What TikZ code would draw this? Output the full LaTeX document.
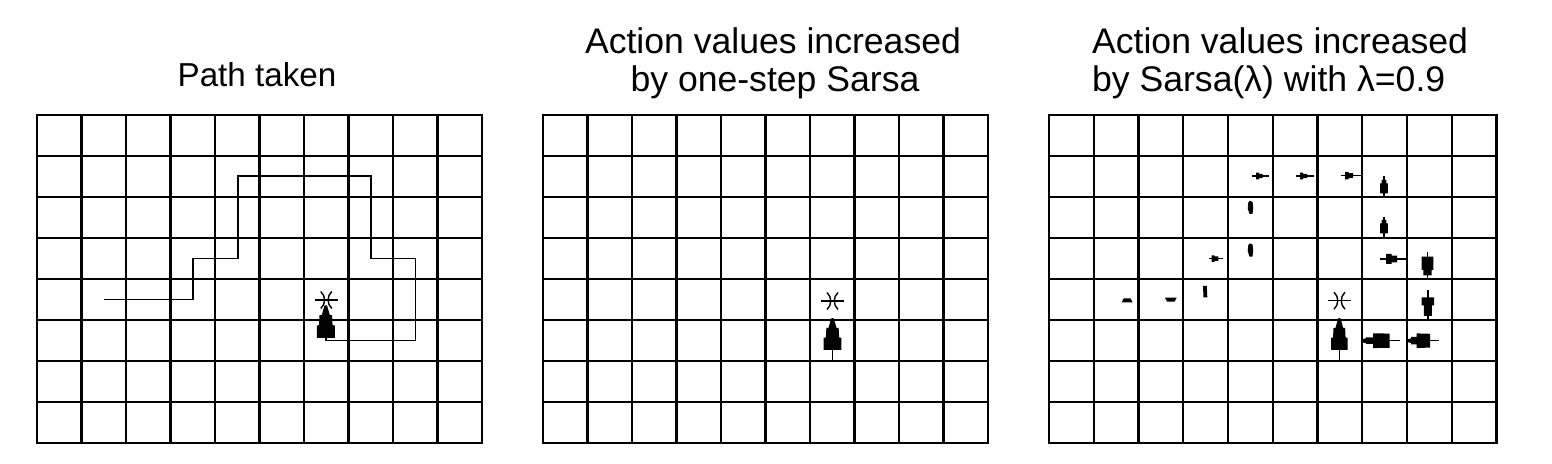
\documentclass[tikz,border=0pt]{standalone}
\usepackage{fontspec}
\setmainfont{Liberation Sans}
\tikzset{
  gridline/.style={line width=1.1pt, line cap=rect},
  pathline/.style={line width=0.8pt, line join=miter},
  stemline/.style={line width=0.7pt},
  title/.style={font=\fontsize{17.8}{20}\selectfont, inner sep=0pt},
  smalltitle/.style={font=\fontsize{16.6}{20}\selectfont, inner sep=0pt},
}
\newcommand{\drawgrid}[2]{%
  \foreach \i in {0,...,10} \draw[gridline] ({#1+\i*#2},115) -- ({#1+\i*#2},443);
  \foreach \j in {0,...,8} \draw[gridline] (#1,{115+\j*41}) -- ({#1+10*#2},{115+\j*41});
}
\newcommand{\goalstar}[2]{%
  \begin{scope}[shift={(#1,#2)}]
    \draw[stemline] (-11.5,0) -- (11.5,0);
    \draw[stemline] (-5.5,-8.5) .. controls (-0.5,-4) and (-0.5,4) .. (-5.5,8.5);
    \draw[stemline] (5.5,-8.5) .. controls (0.5,-4) and (0.5,4) .. (5.5,8.5);
  \end{scope}}
% horizontal stepped blob: y, xa, xm, xb, half1, half2
\newcommand{\hblob}[6]{\fill (#2,{#1-#5}) -- (#3,{#1-#5}) -- (#3,{#1-#6}) -- (#4,{#1-#6}) -- (#4,{#1+#6}) -- (#3,{#1+#6}) -- (#3,{#1+#5}) -- (#2,{#1+#5}) -- cycle;}
% vertical stepped blob: x, ya, ym, yb, half1, half2
\newcommand{\vblob}[6]{\fill ({#1-#5},#2) -- ({#1-#5},#3) -- ({#1-#6},#3) -- ({#1-#6},#4) -- ({#1+#6},#4) -- ({#1+#6},#3) -- ({#1+#5},#3) -- ({#1+#5},#2) -- cycle;}
% upward tree head: cx, tip, base, half
\newcommand{\uptree}[4]{\fill ({#1-1.3},#2) -- ({#1+1.3},#2) -- ({#1+0.45*#4},{#2+0.3*(#3-#2)}) -- ({#1+0.7*#4},{#2+0.3*(#3-#2)}) -- ({#1+0.75*#4},{#2+0.6*(#3-#2)}) -- ({#1+#4},{#2+0.62*(#3-#2)}) -- ({#1+#4},#3) -- ({#1-#4},#3) -- ({#1-#4},{#2+0.62*(#3-#2)}) -- ({#1-0.75*#4},{#2+0.6*(#3-#2)}) -- ({#1-0.7*#4},{#2+0.3*(#3-#2)}) -- ({#1-0.45*#4},{#2+0.3*(#3-#2)}) -- cycle;}
\begin{document}
\begin{tikzpicture}[x=0.5pt,y=-0.5pt]
\useasboundingbox[fill=white] (0,0) rectangle (1552,464);

% titles
\node[smalltitle, anchor=base] (t1) at (257,87) {Path taken};
\node[title, anchor=base] (t2a) at (773,53.3) {Action values increased};
\node[title, anchor=base] (t2b) at (775,91.7) {by one-step Sarsa};
\node[title, anchor=base west] (t3a) at (1091.7,53.3) {Action values increased};
\node[title, anchor=base west] (t3b) at (1091.7,91.7) {by Sarsa(λ) with λ=0.9};

% grids
\drawgrid{37}{44.5}
\drawgrid{543}{44.5}
\drawgrid{1049}{44.75}

% left panel: path
\coordinate (p0) at (103.75,299.5);
\coordinate (p1) at (192.75,299.5);
\coordinate (p2) at (192.75,258.5);
\coordinate (p3) at (237.75,258.5);
\coordinate (p4) at (237.75,176);
\coordinate (p5) at (370.75,176);
\coordinate (p6) at (370.75,258.5);
\coordinate (p7) at (415.5,258.5);
\coordinate (p8) at (415.5,340.5);
\coordinate (p9) at (326,340.5);
\draw[pathline] (p0) -- (p1) -- (p2) -- (p3) -- (p4) -- (p5) -- (p6) -- (p7) -- (p8) -- (p9) -- (326,337);
\uptree{325.8}{305.5}{338}{9}
\goalstar{326.3}{300}

% middle panel
\draw[stemline] (832.5,318.3) -- (832.5,361);
\uptree{832.5}{318.3}{350}{8.8}
\goalstar{832.5}{301}

% right panel
\goalstar{1339.5}{300.7}
\draw[stemline] (1339.3,318.3) -- (1339.3,361);
\uptree{1339.3}{318.3}{350}{8.3}
% row 1
\draw[stemline] (1252.3,176) -- (1269.3,176);
\hblob{176}{1256}{1259}{1262.5}{3.3}{2.2}
\draw[stemline] (1296,176) -- (1314,176);
\hblob{176}{1300}{1303}{1307}{3.3}{2.2}
\draw[stemline] (1340.7,175.7) -- (1361.5,175.7);
\hblob{175.7}{1345}{1348.5}{1353}{3.8}{2.5}
% column 7 down
\draw[stemline] (1384,176.3) -- (1384,197);
\vblob{1384}{180}{183.5}{193.3}{2.3}{3.8}
\draw[stemline] (1384,216.7) -- (1384,238);
\vblob{1384}{220}{223.5}{233.3}{2.3}{3.8}
% row 3
\draw[stemline] (1209.3,258.7) -- (1222.7,258.7);
\hblob{258.7}{1211.7}{1214.5}{1218.3}{3.2}{2.2}
\draw[stemline] (1380,259) -- (1405.5,259);
\hblob{259}{1386}{1391.5}{1397}{5}{3.3}
% column 8 down
\draw[stemline] (1427.5,251.7) -- (1427.5,279);
\vblob{1427.5}{256.7}{270}{275.5}{5.8}{4.2}
\draw[stemline] (1427.8,290) -- (1427.8,320.5);
\vblob{1427.8}{297.5}{305.5}{316}{6.3}{4}
% row 5 leftward
\draw[stemline] (1362,340.7) -- (1400,340.7);
\fill (1362,339.2) -- (1366,338.2) -- (1366,337.4) -- (1373,337.4) -- (1373,333.3) -- (1389.5,333.6) -- (1389.5,347.8) -- (1373,348.1) -- (1373,344) -- (1366,344) -- (1366,343.2) -- (1362,342.2) -- cycle;
\draw[stemline] (1407.3,340.7) -- (1439,340.7);
\fill (1407.3,339.4) -- (1411,338.4) -- (1411,337) -- (1416.7,337) -- (1416.7,333.4) -- (1430,333.8) -- (1430,347.6) -- (1416.7,348) -- (1416.7,344.4) -- (1411,344.4) -- (1411,343) -- (1407.3,342) -- cycle;
% small blobs on the early part of the path
\fill (1121.7,302.5) -- (1123.5,298.5) -- (1130.5,298.5) -- (1132.7,302.5) -- cycle;
\fill (1165,297.7) -- (1176.7,297.7) -- (1174.5,301.7) -- (1167,301.7) -- cycle;
\fill (1203,286) -- (1206.8,286) -- (1207.3,297.3) -- (1203.5,297.3) -- cycle;
\fill (1250,243.3) -- (1252.5,244.5) -- (1253.2,250) -- (1252.5,256.7) -- (1249.5,256.7) -- (1247.7,251) -- (1248.3,245) -- cycle;
\fill (1250,200.7) -- (1252.5,201.9) -- (1253.2,207.4) -- (1252.5,214) -- (1249.5,214) -- (1247.7,208.4) -- (1248.3,202.4) -- cycle;
\end{tikzpicture}
\end{document}
